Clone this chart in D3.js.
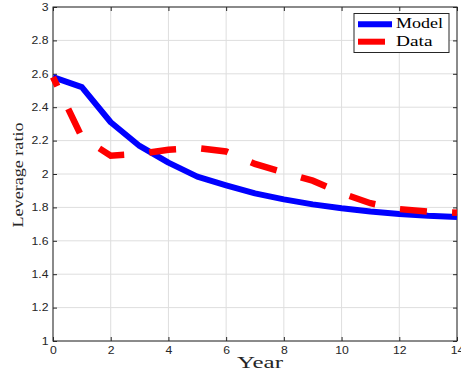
<!DOCTYPE html>
<html>
<head>
<meta charset="utf-8">
<script src="https://cdn.jsdelivr.net/npm/d3@7"></script>
<style>
  body { margin: 0; background: #fff; }
  svg { display: block; }
</style>
</head>
<body>
<script>
// values
var years = [0, 1, 2, 3, 4, 5, 6, 7, 8, 9, 10, 11, 12, 13, 14];
var modelValues = [2.58, 2.52, 2.31, 2.168, 2.068, 1.984, 1.932, 1.884, 1.848, 1.818, 1.795, 1.776, 1.761, 1.75, 1.743];
var dataValues = [2.58, 2.22, 2.11, 2.12, 2.145, 2.155, 2.135, 2.06, 2.01, 1.96, 1.885, 1.825, 1.79, 1.775, 1.768];
var xTicks = [0, 2, 4, 6, 8, 10, 12, 14];
var yTicks = [1, 1.2, 1.4, 1.6, 1.8, 2, 2.2, 2.4, 2.6, 2.8, 3];
var seriesNames = ["Model", "Data"];
var seriesColors = ["#0000ff", "#ff0000"];

var width = 461;
var height = 376;
var plotLeft = 53, plotRight = 457, plotTop = 7, plotBottom = 341;

var svg = d3.select("body").append("svg")
    .attr("width", width)
    .attr("height", height);

var x = d3.scaleLinear().domain([0, 14]).range([plotLeft, plotRight]);
var y = d3.scaleLinear().domain([1, 3]).range([plotBottom, plotTop]);

var axisColor = "#262626";
var gridColor = "#dedede";

// grid
var grid = svg.append("g");
grid.selectAll(".vg").data(xTicks).enter().append("line")
    .attr("x1", d => x(d)).attr("x2", d => x(d))
    .attr("y1", plotTop).attr("y2", plotBottom)
    .attr("stroke", gridColor).attr("stroke-width", 1);
grid.selectAll(".hg").data(yTicks).enter().append("line")
    .attr("x1", plotLeft).attr("x2", plotRight)
    .attr("y1", d => y(d)).attr("y2", d => y(d))
    .attr("stroke", gridColor).attr("stroke-width", 1);

// axes (ticks point inward)
var fmt = d => String(+d.toFixed(1));

var gx = svg.append("g").attr("transform", "translate(0," + plotBottom + ")")
    .call(d3.axisBottom(x).tickValues(xTicks).tickSizeInner(-4).tickSizeOuter(0).tickPadding(6).tickFormat(fmt));
var gy = svg.append("g").attr("transform", "translate(" + plotLeft + ",0)")
    .call(d3.axisLeft(y).tickValues(yTicks).tickSizeInner(-4).tickSizeOuter(0).tickPadding(4.5).tickFormat(fmt));
var gt = svg.append("g").attr("transform", "translate(0," + plotTop + ")")
    .call(d3.axisTop(x).tickValues(xTicks).tickSizeInner(-4).tickSizeOuter(0).tickFormat(""));
var gr = svg.append("g").attr("transform", "translate(" + plotRight + ",0)")
    .call(d3.axisRight(y).tickValues(yTicks).tickSizeInner(-4).tickSizeOuter(0).tickFormat(""));

[gx, gy, gt, gr].forEach(function(g) {
  g.select(".domain").remove();
  g.selectAll(".tick line").attr("stroke", axisColor);
  g.selectAll(".tick text")
    .attr("fill", axisColor)
    .style("font-family", "'Liberation Sans', Arial, sans-serif")
    .style("font-size", "10px");
});

// stretch tick labels a little, as in the picture
svg.selectAll(".tick text").each(function() {
  var w = this.getComputedTextLength();
  if (w > 0) {
    this.setAttribute("textLength", w * 1.22);
    this.setAttribute("lengthAdjust", "spacingAndGlyphs");
  }
});

svg.append("rect")
    .attr("x", plotLeft).attr("y", plotTop)
    .attr("width", plotRight - plotLeft).attr("height", plotBottom - plotTop)
    .attr("fill", "none").attr("stroke", axisColor).attr("stroke-width", 1);

// lines
var line = d3.line().x((d, i) => x(years[i])).y(d => y(d));

svg.append("path")
    .datum(modelValues)
    .attr("d", line)
    .attr("fill", "none")
    .attr("stroke", seriesColors[0])
    .attr("stroke-width", 6)
    .attr("stroke-linejoin", "round");

svg.append("path")
    .datum(dataValues)
    .attr("d", line)
    .attr("fill", "none")
    .attr("stroke", seriesColors[1])
    .attr("stroke-width", 6.5)
    .attr("stroke-dasharray", "27,25.2")
    .attr("stroke-dashoffset", 17);

// axis labels
svg.append("text")
    .attr("x", 260).attr("y", 367.5)
    .attr("text-anchor", "middle")
    .attr("textLength", 46).attr("lengthAdjust", "spacingAndGlyphs")
    .style("font-family", "'Liberation Serif', 'Times New Roman', serif")
    .style("font-size", "16px")
    .attr("fill", axisColor)
    .text("Year");

svg.append("text")
    .attr("transform", "translate(22.5,175) rotate(-90)")
    .attr("text-anchor", "middle")
    .attr("textLength", 105).attr("lengthAdjust", "spacingAndGlyphs")
    .style("font-family", "'Liberation Serif', 'Times New Roman', serif")
    .style("font-size", "15px")
    .attr("fill", axisColor)
    .text("Leverage ratio");

// legend
var legend = svg.append("g");
legend.append("rect")
    .attr("x", 354).attr("y", 13.5)
    .attr("width", 95).attr("height", 39)
    .attr("fill", "#fff").attr("stroke", axisColor).attr("stroke-width", 1);

var legendY = [24.3, 41.7];
var legendTextLen = [47, 36.5];
seriesNames.forEach(function(name, i) {
  legend.append("line")
    .attr("x1", 358).attr("x2", 392)
    .attr("y1", legendY[i]).attr("y2", legendY[i])
    .attr("stroke", seriesColors[i])
    .attr("stroke-width", 6)
    .attr("stroke-dasharray", i === 1 ? "27,22" : null);
  legend.append("text")
    .attr("x", 396).attr("y", legendY[i] + 4)
    .attr("textLength", legendTextLen[i]).attr("lengthAdjust", "spacingAndGlyphs")
    .style("font-family", "'Liberation Serif', 'Times New Roman', serif")
    .style("font-size", "14px")
    .attr("fill", "#000")
    .text(name);
});
</script>
</body>
</html>
